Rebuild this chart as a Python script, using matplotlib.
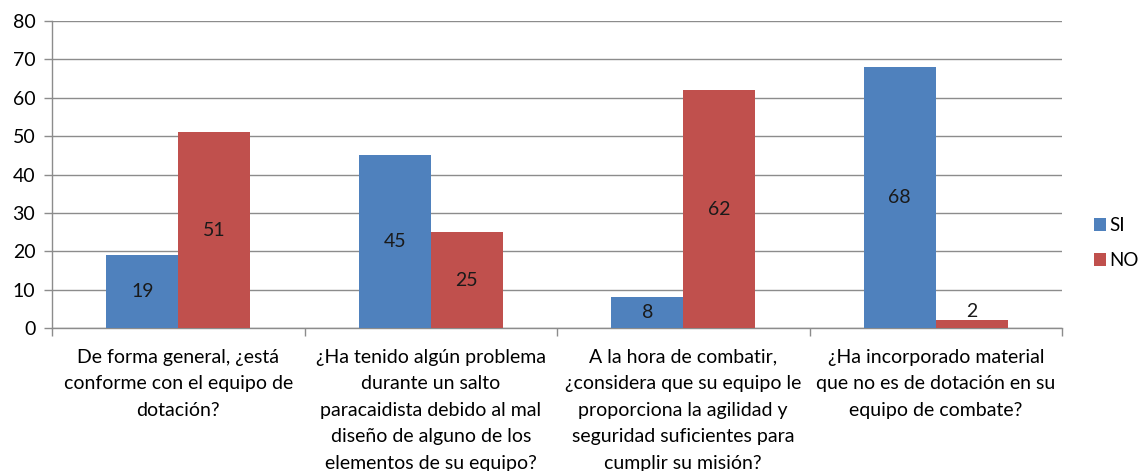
import matplotlib
matplotlib.use("Agg")
import matplotlib.pyplot as plt
import numpy as np

categories = [
    "De forma general, ¿está\nconforme con el equipo de\ndotación?",
    "¿Ha tenido algún problema\ndurante un salto\nparacaidista debido al mal\ndiseño de alguno de los\nelementos de su equipo?",
    "A la hora de combatir,\n¿considera que su equipo le\nproporciona la agilidad y\nseguridad suficientes para\ncumplir su misión?",
    "¿Ha incorporado material\nque no es de dotación en su\nequipo de combate?",
]
si_values = [19, 45, 8, 68]
no_values = [51, 25, 62, 2]
series_names = ["SI", "NO"]
y_ticks = [0, 10, 20, 30, 40, 50, 60, 70, 80]

plt.rcParams['font.family'] = ['Lato', 'DejaVu Sans']

fig = plt.figure(figsize=(11.39, 4.71), dpi=100)
ax = fig.add_axes([52/1139, 1-328/471, (1062-52)/1139, (328-21)/471])

x = np.arange(len(categories))
w = 0.285
blue = "#4F81BD"
red = "#C0504D"
b1 = ax.bar(x - w/2, si_values, w, color=blue, label=series_names[0], zorder=3)
b2 = ax.bar(x + w/2, no_values, w, color=red, label=series_names[1], zorder=3)

for bars, vals in ((b1, si_values), (b2, no_values)):
    for rect, v in zip(bars, vals):
        ypos = v / 2 if v >= 6 else v + 2.4
        ax.text(rect.get_x() + rect.get_width()/2, ypos, str(v),
                ha="center", va="center", fontsize=14, color="#1a1a1a", zorder=4)

ax.set_xlim(-0.5, len(categories) - 0.5)
ax.set_ylim(0, 80)
ax.set_yticks(y_ticks)
ax.set_yticklabels([str(t) for t in y_ticks], fontsize=14)
ax.yaxis.grid(True, color="#8C8C8C", linewidth=1.0, zorder=0)
ax.set_axisbelow(True)

# category boundary ticks
ax.set_xticks(np.arange(-0.5, len(categories) + 0.5, 1.0))
ax.set_xticklabels([])
ax.tick_params(axis="x", direction="out", length=6, color="#8C8C8C", width=1)
ax.tick_params(axis="y", direction="out", length=6, color="#8C8C8C", width=1, pad=6)
ax.set_xticks(x, minor=True)
ax.set_xticklabels(categories, minor=True, fontsize=14, linespacing=1.68)
ax.tick_params(axis="x", which="minor", length=0, pad=15)

for s in ["top", "right"]:
    ax.spines[s].set_visible(False)
for s in ["left", "bottom"]:
    ax.spines[s].set_color("#8C8C8C")
    ax.spines[s].set_linewidth(1.0)

leg = fig.legend(handles=[b1, b2], labels=series_names, loc="center left",
                 bbox_to_anchor=(1094/1139, 1-243/471), frameon=False,
                 fontsize=13.5, handlelength=0.65, handleheight=0.65,
                 handletextpad=0.15, labelspacing=0.95, borderpad=0,
                 borderaxespad=0)

fig.savefig("out.png", dpi=100)
